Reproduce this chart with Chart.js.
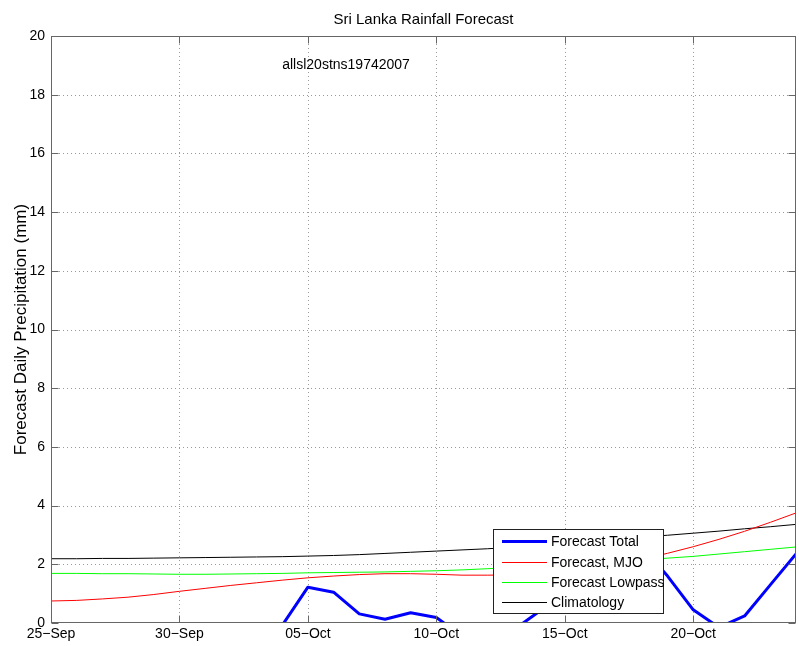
<!DOCTYPE html>
<html>
<head>
<meta charset="utf-8">
<title>Sri Lanka Rainfall Forecast</title>
<script src="https://cdn.jsdelivr.net/npm/chart.js@4/dist/chart.umd.min.js"></script>
<style>
  html, body { margin: 0; padding: 0; background: #fff; }
  #wrap { width: 799px; height: 646px; }
</style>
</head>
<body>
<div id="wrap"><canvas id="c" width="799" height="646"></canvas></div>
<script>
// Day offsets from 25-Sep
const days = [0,1,2,3,4,5,6,7,8,9,10,11,12,13,14,15,16,17,18,19,20,21,22,23,24,25,26,27,28,29];

// Daily precipitation (mm)
const forecastTotal = [-0.9,-1.2,-1.0,-0.7,-0.9,-1.1,-0.8,-0.6,-0.5,-0.08,1.22,1.05,0.31,0.13,0.35,0.19,-0.45,-0.75,-0.24,0.39,1.1,1.8,2.3,2.6,1.6,0.45,-0.15,0.24,1.3,2.35];
const forecastMJO = [0.75,0.77,0.82,0.88,0.97,1.08,1.18,1.28,1.37,1.46,1.54,1.60,1.65,1.68,1.68,1.66,1.63,1.63,1.64,1.67,1.74,1.84,1.99,2.17,2.375,2.60,2.85,3.125,3.43,3.75];
const forecastLowpass = [1.69,1.69,1.68,1.68,1.67,1.66,1.66,1.67,1.68,1.69,1.71,1.72,1.73,1.74,1.76,1.78,1.81,1.85,1.89,1.94,1.99,2.04,2.09,2.15,2.21,2.27,2.35,2.43,2.51,2.59];
const climatology = [2.19,2.19,2.20,2.20,2.21,2.22,2.23,2.24,2.25,2.26,2.28,2.30,2.33,2.37,2.41,2.45,2.49,2.53,2.58,2.65,2.72,2.79,2.86,2.93,2.99,3.06,3.13,3.21,3.28,3.36];

// Axis ticks
const xTickDays = [0,5,10,15,20,25];
const xTickLabels = ['25\u2212Sep','30\u2212Sep','05\u2212Oct','10\u2212Oct','15\u2212Oct','20\u2212Oct'];
const yTicks = [0,2,4,6,8,10,12,14,16,18,20];

const FONT = '"Liberation Sans", Arial, Helvetica, sans-serif';
const toPoints = vals => days.map((d, i) => ({ x: d, y: vals[i] }));

// MATLAB-style axes: dotted grid, inward ticks, boxed frame, legend and labels
const axesDecor = {
  id: 'axesDecor',
  beforeDatasetsDraw(chart) {
    const { ctx, chartArea: a, scales: { x, y } } = chart;
    ctx.save();
    ctx.strokeStyle = '#9a9a9a';
    ctx.lineWidth = 1;
    ctx.setLineDash([1, 3]);
    xTickDays.forEach(v => {
      if (v === x.min || v === x.max) return;
      const px = Math.round(x.getPixelForValue(v)) + 0.5;
      ctx.beginPath(); ctx.moveTo(px, a.top); ctx.lineTo(px, a.bottom); ctx.stroke();
    });
    yTicks.forEach(v => {
      if (v === y.min || v === y.max) return;
      const py = Math.round(y.getPixelForValue(v)) + 0.5;
      ctx.beginPath(); ctx.moveTo(a.left, py); ctx.lineTo(a.right, py); ctx.stroke();
    });
    ctx.restore();
  },
  afterDatasetsDraw(chart) {
    const { ctx, chartArea: a, scales: { x, y } } = chart;
    const L = Math.round(a.left) + 0.5, R = Math.round(a.right) - 0.5;
    const T = Math.round(a.top) + 0.5, B = Math.round(a.bottom) - 0.5;
    ctx.save();
    // frame
    ctx.strokeStyle = '#666';
    ctx.lineWidth = 1;
    ctx.strokeRect(L, T, R - L, B - T);
    // inward tick marks
    const tl = 7;
    ctx.beginPath();
    xTickDays.forEach(v => {
      const px = Math.round(x.getPixelForValue(v)) + 0.5;
      ctx.moveTo(px, B); ctx.lineTo(px, B - tl);
      ctx.moveTo(px, T); ctx.lineTo(px, T + tl);
    });
    yTicks.forEach(v => {
      const py = Math.round(y.getPixelForValue(v)) + 0.5;
      ctx.moveTo(L, py); ctx.lineTo(L + tl, py);
      ctx.moveTo(R, py); ctx.lineTo(R - tl, py);
    });
    ctx.stroke();

    // title
    ctx.fillStyle = '#000';
    ctx.font = '15px ' + FONT;
    ctx.textAlign = 'center';
    ctx.textBaseline = 'alphabetic';
    ctx.fillText('Sri Lanka Rainfall Forecast', (a.left + a.right) / 2, 24);

    // station-set annotation placed in data coordinates
    ctx.font = '14px ' + FONT;
    ctx.textAlign = 'left';
    ctx.textBaseline = 'middle';
    ctx.fillText('allsl20stns19742007', x.getPixelForValue(9), y.getPixelForValue(19));

    // y-axis label
    ctx.save();
    ctx.translate(26, (a.top + a.bottom) / 2);
    ctx.rotate(-Math.PI / 2);
    ctx.font = '17px ' + FONT;
    ctx.textAlign = 'center';
    ctx.textBaseline = 'alphabetic';
    ctx.fillText('Forecast Daily Precipitation (mm)', 0, 0);
    ctx.restore();

    // legend box
    const bx = 493.5, by = 529.5, bw = 170, bh = 84;
    ctx.fillStyle = '#fff';
    ctx.fillRect(bx, by, bw, bh);
    ctx.strokeStyle = '#222';
    ctx.strokeRect(bx, by, bw, bh);
    const rows = [541, 562, 582, 602];
    ctx.font = '14px ' + FONT;
    ctx.textAlign = 'left';
    ctx.textBaseline = 'middle';
    chart.data.datasets.forEach((ds, i) => {
      const ry = rows[i] + 0.5;
      ctx.strokeStyle = ds.borderColor;
      ctx.lineWidth = ds.borderWidth;
      ctx.beginPath(); ctx.moveTo(502, ry); ctx.lineTo(547, ry); ctx.stroke();
      ctx.fillStyle = '#000';
      ctx.fillText(ds.label, 551, rows[i] + 1);
    });
    ctx.restore();
  }
};

new Chart(document.getElementById('c'), {
  type: 'line',
  data: {
    datasets: [
      { label: 'Forecast Total', data: toPoints(forecastTotal), borderColor: '#0000ff', borderWidth: 3 },
      { label: 'Forecast, MJO', data: toPoints(forecastMJO), borderColor: '#ff0000', borderWidth: 1 },
      { label: 'Forecast Lowpass', data: toPoints(forecastLowpass), borderColor: '#00ff00', borderWidth: 1 },
      { label: 'Climatology', data: toPoints(climatology), borderColor: '#000000', borderWidth: 1 }
    ]
  },
  options: {
    responsive: false,
    animation: false,
    parsing: true,
    elements: { point: { radius: 0 }, line: { tension: 0, borderJoinStyle: 'round' } },
    layout: { padding: { top: 36, right: 3, bottom: 0, left: 0 } },
    plugins: { legend: { display: false }, tooltip: { enabled: false }, title: { display: false } },
    font: { family: FONT },
    scales: {
      x: {
        type: 'linear', min: 0, max: 29,
        afterBuildTicks: s => { s.ticks = xTickDays.map(v => ({ value: v })); },
        afterFit: s => { s.height = 23; },
        grid: { display: false, drawTicks: false },
        border: { display: false },
        ticks: {
          callback: (v, i) => xTickLabels[i],
          autoSkip: false, maxRotation: 0, padding: 3,
          color: '#000', font: { family: FONT, size: 14 }
        }
      },
      y: {
        type: 'linear', min: 0, max: 20,
        afterBuildTicks: s => { s.ticks = yTicks.map(v => ({ value: v })); },
        afterFit: s => { s.width = 51; },
        grid: { display: false, drawTicks: false },
        border: { display: false },
        ticks: {
          callback: (v, i) => String(yTicks[i]),
          padding: 6,
          color: '#000', font: { family: FONT, size: 14 }
        }
      }
    }
  },
  plugins: [axesDecor]
});
</script>
</body>
</html>
